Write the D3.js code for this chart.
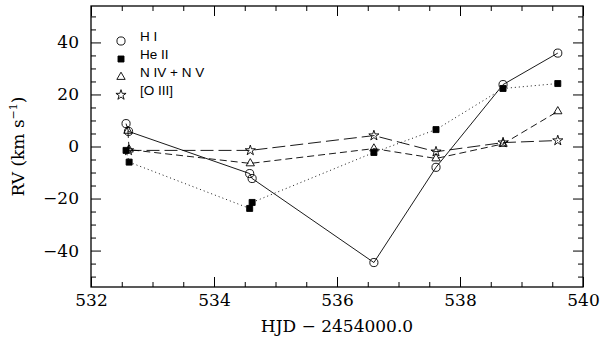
<!DOCTYPE html>
<html>
<head>
<meta charset="utf-8">
<script src="https://cdnjs.cloudflare.com/ajax/libs/d3/7.8.5/d3.min.js"></script>
<style>
  body { margin: 0; background: #fff; }
  .axis text { font-family: "DejaVu Serif", serif; font-size: 17px; fill: #000; }
  .axis path, .axis line { stroke: #000; }
  .legend text { font-family: "Liberation Sans", Arial, sans-serif; font-size: 13.5px; }
</style>
</head>
<body>
<div id="chart"></div>
<script>
// HJD - 2454000.0 and radial velocities (km/s)
var hiX    = [532.57, 532.61, 534.58, 534.62, 536.60, 537.61, 538.70, 539.59];
var hiRV   = [8.8, 5.8, -10.4, -12.3, -44.6, -8.0, 23.8, 35.9];
var heX    = [532.57, 532.62, 534.58, 534.62, 536.60, 537.61, 538.70, 539.59];
var heRV   = [-1.5, -6.0, -23.8, -21.5, -2.3, 6.5, 22.3, 24.2];
var nX     = [532.60, 532.62, 534.59, 536.60, 537.61, 538.70, 539.59];
var nRV    = [6.0, -1.2, -6.5, -0.8, -4.6, 1.0, 13.5];
var oX     = [532.61, 534.59, 536.60, 537.61, 538.70, 539.59];
var oRV    = [-1.5, -1.5, 4.2, -2.0, 1.5, 2.3];

var seriesNames = ["H I", "He II", "N IV + N V", "[O III]"];
var xMajor = [532, 534, 536, 538, 540];
var yMajor = [-40, -20, 0, 20, 40];

var width = 600, height = 339;
var margin = {top: 6, right: 17, bottom: 52, left: 91};

var xScale = d3.scaleLinear().domain([532, 540]).range([margin.left, width - margin.right]);
var yScale = d3.scaleLinear().domain([-54, 54]).range([height - margin.bottom, margin.top]);

var svg = d3.select("#chart").append("svg")
    .attr("width", width)
    .attr("height", height);

var x0 = margin.left, x1 = width - margin.right,
    y0 = margin.top, y1 = height - margin.bottom;

var xMinor = d3.range(532, 540.01, 0.5).filter(function(d) { return xMajor.indexOf(d) < 0; });
var yMinor = d3.range(-50, 50.01, 5).filter(function(d) { return yMajor.indexOf(d) < 0; });

function axisPair(gen, pos, values, size, labels) {
    var a = gen(pos).tickValues(values).tickSize(size).tickSizeOuter(0);
    if (!labels) a.tickFormat("");
    return a;
}

// bottom
svg.append("g").attr("class", "axis").attr("transform", "translate(0," + y1 + ")")
    .call(axisPair(d3.axisBottom, xScale, xMajor, -10, true).tickPadding(7).tickFormat(d3.format("d")));
svg.append("g").attr("class", "axis").attr("transform", "translate(0," + y1 + ")")
    .call(axisPair(d3.axisBottom, xScale, xMinor, -5, false));
// top
svg.append("g").attr("class", "axis").attr("transform", "translate(0," + y0 + ")")
    .call(axisPair(d3.axisTop, xScale, xMajor, -10, false));
svg.append("g").attr("class", "axis").attr("transform", "translate(0," + y0 + ")")
    .call(axisPair(d3.axisTop, xScale, xMinor, -5, false));
// left
svg.append("g").attr("class", "axis").attr("transform", "translate(" + x0 + ",0)")
    .call(axisPair(d3.axisLeft, yScale, yMajor, -10, true).tickPadding(12));
svg.append("g").attr("class", "axis").attr("transform", "translate(" + x0 + ",0)")
    .call(axisPair(d3.axisLeft, yScale, yMinor, -5, false));
// right
svg.append("g").attr("class", "axis").attr("transform", "translate(" + x1 + ",0)")
    .call(axisPair(d3.axisRight, yScale, yMajor, -10, false));
svg.append("g").attr("class", "axis").attr("transform", "translate(" + x1 + ",0)")
    .call(axisPair(d3.axisRight, yScale, yMinor, -5, false));

svg.selectAll(".axis .domain").remove();
svg.append("rect")
    .attr("x", x0).attr("y", y0)
    .attr("width", x1 - x0).attr("height", y1 - y0)
    .attr("fill", "none").attr("stroke", "#000").attr("stroke-width", 1.3);

// axis titles
svg.append("text")
    .attr("x", (x0 + x1) / 2).attr("y", 332)
    .attr("text-anchor", "middle")
    .style("font-family", "DejaVu Serif, serif").style("font-size", "17px")
    .text("HJD \u2212 2454000.0");

var yt = svg.append("text")
    .attr("transform", "translate(24," + ((y0 + y1) / 2) + ") rotate(-90)")
    .attr("text-anchor", "middle")
    .style("font-family", "DejaVu Serif, serif").style("font-size", "17px");
yt.append("tspan").text("RV (km s");
yt.append("tspan").attr("dy", -7).style("font-size", "11px").text("\u22121");
yt.append("tspan").attr("dy", 7).text(")");

var series = [
    {name: seriesNames[0], xs: hiX, ys: hiRV, dash: null,   sym: d3.symbolCircle,   size: 52, fill: "none"},
    {name: seriesNames[1], xs: heX, ys: heRV, dash: "1,3",  sym: d3.symbolSquare,   size: 36, fill: "#000"},
    {name: seriesNames[2], xs: nX,  ys: nRV,  dash: "7,4",  sym: d3.symbolTriangle, size: 30, fill: "none"},
    {name: seriesNames[3], xs: oX,  ys: oRV,  dash: "13,5", sym: d3.symbolStar,     size: 32, fill: "none"}
];

var line = d3.line()
    .x(function(d) { return xScale(d[0]); })
    .y(function(d) { return yScale(d[1]); });

series.forEach(function(s) {
    var pts = s.xs.map(function(x, i) { return [x, s.ys[i]]; });
    svg.append("path")
        .attr("d", line(pts))
        .attr("fill", "none")
        .attr("stroke", "#000")
        .attr("stroke-width", 0.9)
        .attr("stroke-dasharray", s.dash);
    svg.selectAll(null)
        .data(pts)
        .enter().append("path")
        .attr("transform", function(d) { return "translate(" + xScale(d[0]) + "," + yScale(d[1]) + ")"; })
        .attr("d", d3.symbol().type(s.sym).size(s.size))
        .attr("fill", s.fill)
        .attr("stroke", "#000")
        .attr("stroke-width", 0.9);
});

// legend
var legend = svg.append("g").attr("class", "legend");
series.forEach(function(s, i) {
    var ly = 41 + i * 18;
    legend.append("path")
        .attr("transform", "translate(121," + ly + ")")
        .attr("d", d3.symbol().type(s.sym).size(s.size))
        .attr("fill", s.fill)
        .attr("stroke", "#000")
        .attr("stroke-width", 0.9);
    legend.append("text")
        .attr("x", 140).attr("y", ly - 0.5)
        .text(s.name);
});
</script>
</body>
</html>
